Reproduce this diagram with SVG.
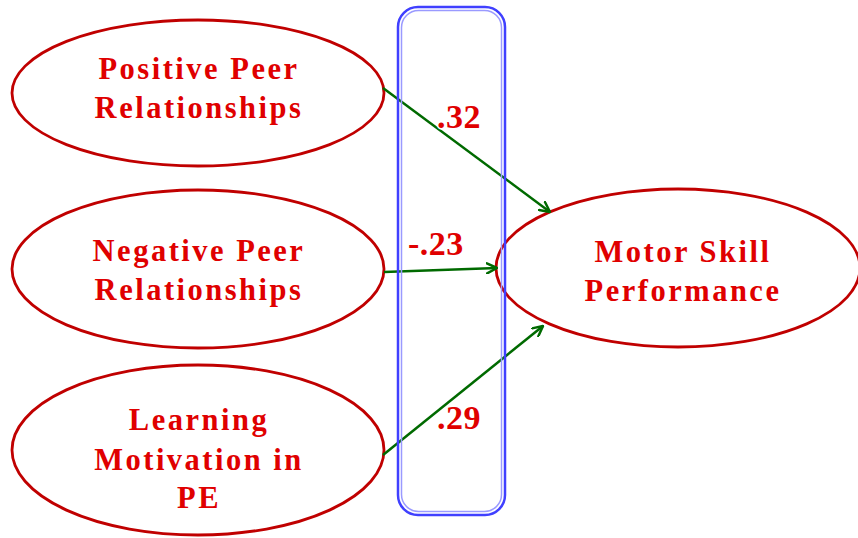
<svg xmlns="http://www.w3.org/2000/svg" width="858" height="538" viewBox="0 0 858 538">
<style>
.node ellipse{fill:#fff;stroke:#c00000;stroke-width:2.8}
.node text{font-family:"Liberation Serif","Times New Roman",serif;font-weight:bold;font-size:30.5px;fill:#e00000;text-anchor:middle;letter-spacing:2.5px}
.conn line{stroke:#006a00;stroke-width:2.5;fill:none}
.lbl{font-family:"Liberation Serif","Times New Roman",serif;font-weight:bold;font-size:34px;fill:#e00000;stroke:#fff;stroke-width:3;paint-order:stroke;letter-spacing:0.5px}
</style>
<defs>
<marker id="ah" viewBox="0 0 12 12" refX="11" refY="6" markerWidth="12" markerHeight="12" markerUnits="userSpaceOnUse" orient="auto">
<path d="M1,1 L11,6 L1,11" fill="none" stroke="#006a00" stroke-width="2.5" stroke-linecap="round" stroke-linejoin="round"/>
</marker>
</defs>
<rect width="858" height="538" fill="#fff"/>
<g id="n1" class="node">
<ellipse cx="198" cy="93" rx="186" ry="73"/>
<text x="199" y="79">Positive Peer</text>
<text x="199" y="118">Relationships</text>
</g>
<g id="n2" class="node">
<ellipse cx="198" cy="269" rx="186" ry="79"/>
<text x="199" y="261">Negative Peer</text>
<text x="199" y="300">Relationships</text>
</g>
<g id="n3" class="node">
<ellipse cx="198" cy="450" rx="186" ry="85"/>
<text x="199" y="430">Learning</text>
<text x="199" y="470">Motivation in</text>
<text x="199" y="508">PE</text>
</g>
<g id="n4" class="node">
<ellipse cx="678" cy="268" rx="182" ry="79"/>
<text x="683" y="262">Motor Skill</text>
<text x="683" y="301">Performance</text>
</g>
<g id="connectors" class="conn">
<line x1="383" y1="88" x2="550" y2="212" marker-end="url(#ah)"/>
<line x1="384" y1="272" x2="497" y2="268" marker-end="url(#ah)"/>
<line x1="383" y1="455" x2="543" y2="326" marker-end="url(#ah)"/>
</g>
<g id="box">
<rect x="398" y="7" width="107" height="508" rx="20" fill="none" stroke="#4040ff" stroke-width="2.5"/>
<rect x="401.5" y="10.5" width="100" height="501" rx="17" fill="none" stroke="#9a9aff" stroke-width="1.5"/>
</g>
<g id="labels">
<text class="lbl" x="437" y="128">.32</text>
<text class="lbl" x="408" y="255">-.23</text>
<text class="lbl" x="437" y="429">.29</text>
</g>
</svg>
